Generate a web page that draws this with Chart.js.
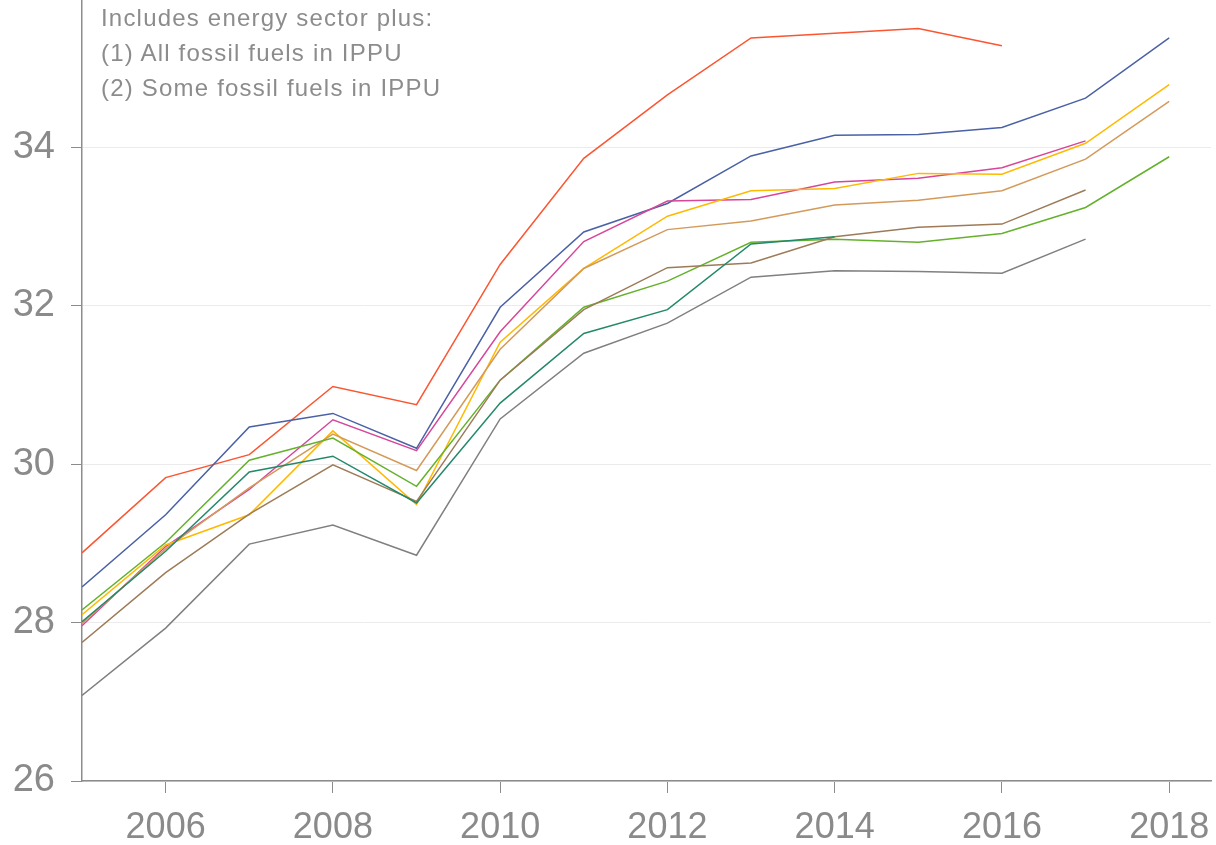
<!DOCTYPE html>
<html>
<head>
<meta charset="utf-8">
<script src="https://cdn.jsdelivr.net/npm/chart.js@4/dist/chart.umd.min.js"></script>
<style>
    html, body { margin: 0; padding: 0; background: #fff; overflow: hidden; }
    #wrap { position: absolute; left: 0; top: -50px; width: 1216px; height: 895px; }
    #nota {
        position: absolute; left: 101px; top: 0px;
        font-family: "Liberation Sans", Arial, sans-serif;
        font-size: 24px; line-height: 35px; letter-spacing: 1.2px;
        color: #8c8c8c;
    }
</style>
</head>
<body>
<div id="wrap"><canvas id="chartLineas"></canvas></div>
<div id="nota">
    Includes energy sector plus:<br>
    (1) All fossil fuels in IPPU<br>
    (2) Some fossil fuels in IPPU
</div>
<script>
// ── Datos ─────────────────────────────────────────────────────
const anios = [2005, 2006, 2007, 2008, 2009, 2010, 2011, 2012, 2013, 2014, 2015, 2016, 2017, 2018];
const ticksX = [2006, 2008, 2010, 2012, 2014, 2016, 2018];
const ticksY = [26, 28, 30, 32, 34, 36];

const rojo    = [28.88, 29.83, 30.12, 30.98, 30.75, 32.52, 33.86, 34.66, 35.38, 35.44, 35.50, 35.28, null, null];
const azul    = [28.45, 29.36, 30.47, 30.64, 30.20, 31.98, 32.93, 33.29, 33.89, 34.15, 34.16, 34.25, 34.62, 35.38];
const magenta = [27.96, 28.96, 29.68, 30.56, 30.17, 31.67, 32.81, 33.32, 33.34, 33.56, 33.61, 33.74, 34.08, null];
const amarillo= [28.10, 28.98, 29.36, 30.42, 29.49, 31.54, 32.47, 33.13, 33.45, 33.48, 33.67, 33.66, 34.05, 34.79];
const canela  = [27.99, 28.93, 29.70, 30.38, 29.92, 31.45, 32.47, 32.96, 33.07, 33.27, 33.33, 33.45, 33.85, 34.58];
const marron  = [27.75, 28.63, 29.37, 29.99, 29.53, 31.06, 31.95, 32.48, 32.54, 32.87, 32.99, 33.03, 33.46, null];
const lima    = [28.16, 29.01, 30.05, 30.33, 29.72, 31.06, 31.98, 32.31, 32.80, 32.84, 32.80, 32.91, 33.24, 33.88];
const verde   = [28.01, 28.90, 29.90, 30.10, 29.51, 30.77, 31.65, 31.95, 32.78, 32.87, null, null, null, null];
const gris    = [27.08, 27.93, 28.99, 29.23, 28.85, 30.57, 31.40, 31.78, 32.36, 32.44, 32.43, 32.41, 32.84, null];

const series = [
    { datos: gris,     color: '#808080' },
    { datos: verde,    color: '#23896a' },
    { datos: marron,   color: '#9e7b58' },
    { datos: lima,     color: '#64b22c' },
    { datos: canela,   color: '#d49a5a' },
    { datos: amarillo, color: '#ffb900' },
    { datos: magenta,  color: '#d6479a' },
    { datos: azul,     color: '#4a61a6' },
    { datos: rojo,     color: '#fc5531' }
];

const GRIS_TXT = '#8a8a8a';
const GRIS_EJE = '#8c8c8c';

new Chart(document.getElementById('chartLineas'), {
    type: 'line',
    data: {
        datasets: series.map(s => ({
            data: anios.map((a, i) => ({ x: a, y: s.datos[i] })),
            borderColor: s.color,
            borderWidth: 1.5,
            pointRadius: 0,
            tension: 0,
            fill: false
        }))
    },
    options: {
        responsive: true,
        maintainAspectRatio: false,
        animation: false,
        layout: { padding: { top: 30, right: 5, left: 0, bottom: 0 } },
        plugins: { legend: { display: false }, tooltip: { enabled: false } },
        scales: {
            x: {
                type: 'linear',
                min: 2005,
                max: 2018.5,
                afterBuildTicks: s => { s.ticks = ticksX.map(v => ({ value: v })); },
                afterFit: s => { s.height = 64; s.paddingRight = 0; s.paddingLeft = 0; },
                border: { display: true, color: GRIS_EJE, width: 1.5 },
                grid: { drawOnChartArea: false, drawTicks: true, tickLength: 12, tickColor: GRIS_EJE, lineWidth: 1 },
                ticks: {
                    padding: 13,
                    maxRotation: 0,
                    color: GRIS_TXT,
                    font: { family: '"Liberation Sans", Arial, sans-serif', size: 36 },
                    callback: v => String(v)
                }
            },
            y: {
                min: 26,
                max: 36,
                afterBuildTicks: s => { s.ticks = ticksY.map(v => ({ value: v })); },
                afterFit: s => { s.width = 82; },
                border: { display: true, color: GRIS_EJE, width: 1.5 },
                grid: { color: '#ebebeb', lineWidth: 1, drawTicks: true, tickLength: 11, tickColor: GRIS_EJE },
                ticks: {
                    padding: 16,
                    color: GRIS_TXT,
                    font: { family: '"Liberation Sans", Arial, sans-serif', size: 38 }
                }
            }
        }
    }
});
</script>
</body>
</html>
